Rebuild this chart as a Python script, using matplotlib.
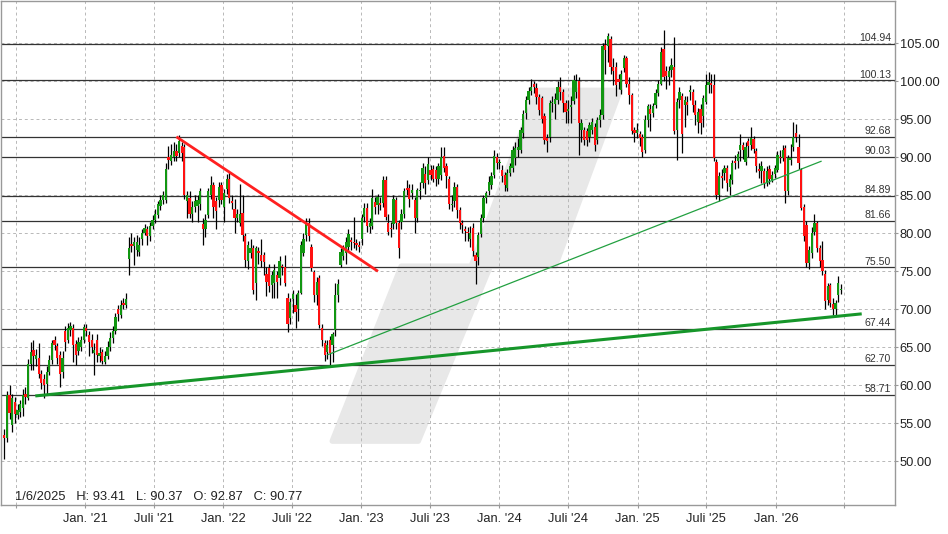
import numpy as np
import pandas as pd
import matplotlib
matplotlib.use("Agg")
import matplotlib.pyplot as plt
import matplotlib.dates as mdates
from matplotlib.patches import Polygon

plt.rcParams['font.family'] = ['Liberation Sans', 'DejaVu Sans']

# weekly candles
first_week = '2020-06-01'

opens = [
    53.5, 53.0, 58.7, 54.8, 57.8, 56.1, 56.5, 57.0, 58.9, 58.3,
    62.8, 64.6, 63.5, 63.6, 61.5, 60.8, 60.2, 61.7, 63.3, 66.0,
    65.2, 64.0, 61.8, 67.1, 66.0, 67.3, 67.5, 65.4, 64.5, 65.0,
    66.0, 67.5, 66.6, 66.0, 64.2, 66.0, 63.8, 64.4, 63.1, 63.8,
    65.0, 66.2, 67.1, 70.0, 69.3, 70.8, 70.6, 76.6, 78.6, 78.3,
    77.8, 77.6, 79.3, 80.1,
    80.6, 79.7, 80.9, 81.8, 82.4, 83.6, 84.4, 84.4, 90.0, 89.5,
    90.1, 90.8, 90.5, 91.5, 91.3, 84.3, 84.6, 82.6, 83.5, 83.6,
    83.8, 81.2, 80.6, 82.4, 85.0, 86.4, 84.2, 84.4, 86.4, 83.4,
    85.8, 87.2, 84.3, 83.2, 82.0, 81.4, 82.7, 79.7, 76.3, 77.4,
    78.0, 73.4, 77.7, 77.2, 77.1, 74.7, 75.4, 73.2, 73.4, 74.5,
    74.1, 75.6, 75.5, 71.5, 68.8,
    71.4, 70.6, 70.1, 72.1, 77.4, 79.8, 81.3, 78.2, 74.9, 71.9,
    74.1, 67.6, 65.6, 64.4, 66.0, 65.3, 67.3, 71.9, 75.8, 77.0,
    77.4, 78.2, 79.1, 78.9, 78.7, 78.5, 79.3, 82.1, 83.3, 80.8,
    80.9, 84.1, 83.7, 84.0, 84.0, 87.0, 81.4, 80.7, 81.2, 84.4,
    81.4, 81.5, 82.6, 86.0, 85.9, 85.3, 84.4, 82.0, 85.5, 86.6,
    87.8, 87.0, 88.3,
    88.5, 88.3, 87.2, 87.7, 90.2, 88.9, 87.2, 83.7, 84.2, 86.1,
    83.1, 81.3, 80.5, 80.2, 79.3, 80.7, 77.2, 76.9, 79.9, 82.0,
    84.6, 85.5, 86.3, 87.7, 90.1, 89.2, 88.3, 87.7, 86.0, 87.9,
    88.6, 89.9, 91.0, 91.0, 93.2, 95.8, 97.5, 98.7, 99.6, 99.1,
    97.9, 97.8, 95.4, 92.6, 92.7, 97.1, 97.0, 97.5, 99.2, 98.6,
    97.1, 96.1, 96.6, 97.4, 98.6, 100.0,
    93.6, 93.6, 93.4, 92.7, 93.6, 94.0, 92.3, 94.9, 95.6, 104.8,
    104.6, 105.5, 101.9, 101.9, 100.3, 98.9, 101.7, 103.0, 99.7, 98.2,
    93.6, 93.2, 93.0, 92.7, 91.0, 94.9, 96.4, 95.8, 96.9, 98.4,
    99.7, 104.3, 101.3, 100.6, 101.5, 101.9, 93.6, 97.5, 98.0, 96.9,
    97.3, 98.6, 98.6, 96.9, 94.7, 96.4, 95.4, 97.3, 99.5, 99.8,
    99.5, 89.4, 85.0,
    87.5, 87.9, 88.6, 86.1, 87.0, 89.5, 89.5, 91.0, 91.6, 89.4,
    92.1, 91.6, 92.4, 90.8, 88.5, 88.2, 88.2, 86.7, 88.5, 87.0,
    87.8, 88.3, 90.1, 89.9, 91.2, 85.6, 89.7, 91.3, 93.2, 91.4,
    88.3, 83.5, 81.1, 76.1, 77.4, 80.2, 81.3, 78.0, 76.5, 74.7,
    71.2, 73.2, 70.7, 70.1, 71.9, 72.5,
]

closes = [
    53.0, 58.7, 56.3, 58.3, 56.2, 56.7, 57.5, 58.7, 58.4, 62.8,
    64.4, 63.9, 64.0, 61.5, 60.3, 60.0, 61.7, 63.3, 65.6, 65.3,
    63.6, 61.5, 63.6, 65.7, 67.5, 67.8, 65.3, 64.0, 65.7, 66.0,
    67.7, 67.1, 65.7, 65.1, 64.6, 64.0, 64.2, 63.2, 63.8, 65.0,
    66.2, 67.1, 69.0, 69.4, 70.6, 70.5, 71.4, 78.0, 78.3, 78.9,
    78.9, 78.5, 80.1, 80.7,
    79.7, 80.9, 81.8, 82.6, 83.8, 84.4, 85.0, 88.5, 89.6, 90.3,
    90.8, 90.2, 92.1, 90.5, 85.1, 85.0, 82.5, 83.5, 84.3, 84.4,
    85.6, 80.5, 81.8, 85.6, 86.4, 83.4, 82.9, 86.1, 84.4, 85.3,
    87.1, 84.6, 84.0, 82.0, 82.6, 82.5, 79.8, 76.5, 78.5, 78.0,
    72.5, 78.0, 77.4, 76.4, 76.2, 73.6, 73.0, 74.5, 75.2, 73.6,
    76.4, 75.5, 73.4, 68.0, 70.9,
    72.0, 69.7, 72.1, 78.5, 79.3, 81.4, 79.6, 75.4, 71.9, 73.6,
    67.9, 66.0, 64.0, 65.3, 64.2, 66.8, 71.9, 73.3, 77.5, 78.0,
    78.8, 79.9, 78.9, 78.7, 78.4, 78.2, 82.0, 83.3, 81.0, 81.3,
    84.7, 83.4, 84.8, 83.7, 87.0, 82.2, 80.2, 80.5, 84.5, 81.3,
    78.1, 82.6, 85.5, 85.7, 84.5, 85.7, 82.0, 85.7, 85.7, 88.6,
    86.6, 89.1, 87.7,
    87.2, 87.2, 88.8, 90.0, 88.6, 87.6, 83.9, 83.9, 86.1, 83.1,
    81.3, 81.1, 80.3, 80.0, 80.0, 77.7, 76.3, 79.8, 82.0, 84.6,
    85.3, 86.8, 87.5, 90.2, 89.3, 89.4, 87.5, 86.4, 87.9, 88.8,
    91.0, 91.2, 91.4, 93.6, 95.7, 97.5, 98.7, 99.3, 99.3, 97.9,
    96.2, 95.1, 92.3, 92.1, 97.1, 97.3, 97.7, 99.2, 98.6, 97.1,
    96.0, 96.4, 96.9, 100.2, 100.1, 94.5,
    94.5, 92.3, 92.3, 94.2, 94.7, 91.6, 94.9, 95.6, 104.6, 104.1,
    106.0, 101.9, 101.3, 99.5, 99.9, 101.0, 103.0, 99.7, 98.2, 93.4,
    93.2, 93.6, 92.5, 90.7, 94.9, 96.7, 95.7, 96.7, 98.4, 99.7,
    103.9, 100.6, 100.7, 101.3, 102.2, 93.4, 97.3, 98.6, 93.0, 97.5,
    96.9, 98.9, 96.9, 95.6, 96.0, 94.5, 97.8, 99.5, 99.9, 99.5,
    89.9, 85.0, 87.5,
    87.3, 88.6, 86.6, 87.2, 89.2, 89.3, 90.4, 91.6, 91.0, 91.4,
    91.5, 92.6, 91.1, 88.9, 88.2, 88.9, 86.6, 88.2, 87.2, 87.7,
    88.6, 90.3, 89.9, 91.0, 85.6, 89.9, 89.9, 92.7, 92.7, 89.2,
    83.3, 79.6, 76.1, 77.8, 80.0, 81.4, 78.0, 76.3, 75.0, 71.1,
    73.0, 70.8, 70.1, 70.8, 73.4, 72.6,
]

highs = [
    54.3, 59.2, 60.0, 58.8, 58.5, 57.5, 58.0, 59.5, 59.8, 63.5,
    65.7, 66.0, 64.8, 65.6, 62.0, 61.5, 62.5, 64.0, 66.0, 66.5,
    65.5, 64.5, 64.5, 67.8, 68.2, 68.3, 68.0, 66.0, 66.3, 66.5,
    68.0, 68.0, 67.2, 66.8, 65.5, 66.8, 65.0, 64.8, 64.5, 65.8,
    67.0, 67.8, 69.5, 70.5, 71.2, 71.5, 72.1, 79.5, 80.0, 79.5,
    79.8, 79.5, 80.6, 81.2,
    81.0, 81.5, 82.4, 83.2, 84.2, 85.0, 85.6, 89.3, 91.5, 91.8,
    92.0, 91.8, 92.9, 92.0, 91.8, 85.5, 85.5, 84.2, 85.0, 85.0,
    86.0, 82.0, 82.5, 86.0, 87.5, 86.8, 84.8, 86.8, 86.8, 85.8,
    87.8, 88.0, 85.0, 84.5, 83.2, 86.5, 85.0, 80.0, 79.0, 79.3,
    78.5, 78.3, 78.2, 79.3, 77.5, 75.5, 76.0, 75.0, 76.0, 75.0,
    77.0, 76.0, 77.2, 72.2, 71.5,
    72.5, 72.0, 72.5, 79.0, 80.0, 82.0, 82.0, 78.6, 75.2, 74.2,
    74.5, 68.0, 66.0, 66.0, 66.5, 67.0, 73.5, 74.0, 78.0, 78.5,
    79.5, 80.5, 79.5, 82.2, 79.2, 79.0, 82.5, 84.0, 84.0, 82.0,
    85.8, 84.8, 85.2, 84.8, 87.5, 87.5, 82.5, 81.5, 85.0, 84.8,
    81.8, 83.2, 86.0, 87.0, 86.5, 86.5, 84.8, 86.0, 86.8, 89.3,
    88.8, 90.0, 89.0,
    89.0, 88.8, 89.3, 91.3, 91.3, 89.3, 87.5, 85.0, 86.8, 86.5,
    83.5, 81.8, 81.0, 80.8, 81.0, 81.3, 77.5, 80.2, 82.5, 85.0,
    85.6, 87.5, 88.0, 91.0, 90.5, 89.8, 89.0, 88.0, 88.5, 89.3,
    91.5, 92.0, 92.5, 94.0, 96.2, 98.0, 99.3, 100.3, 100.0, 99.8,
    98.3, 98.0, 95.8, 93.0, 97.5, 98.0, 98.5, 100.0, 100.5, 99.0,
    97.5, 97.5, 98.0, 100.8, 101.0, 100.5,
    95.0, 94.0, 93.8, 94.6, 95.2, 94.5, 95.3, 96.3, 105.0, 105.5,
    106.3, 106.0, 103.0, 102.5, 101.0, 101.5, 103.4, 103.3, 100.5, 98.5,
    94.0, 94.5, 93.5, 93.0, 95.5, 97.0, 97.0, 97.2, 99.0, 100.2,
    104.5, 106.8, 102.0, 102.0, 103.0, 105.8, 97.8, 99.3, 98.5, 98.0,
    98.0, 99.5, 99.0, 97.5, 96.5, 97.0, 98.2, 101.0, 101.2, 101.0,
    101.0, 89.8, 88.0,
    88.5, 89.0, 89.0, 87.8, 89.6, 90.3, 90.8, 93.0, 92.0, 92.0,
    92.5, 94.0, 92.8, 91.2, 89.2, 89.5, 88.6, 88.8, 89.0, 88.2,
    89.0, 90.8, 91.0, 91.6, 91.6, 90.3, 91.8, 94.6, 94.4, 93.0,
    88.6, 83.8, 81.6, 78.3, 80.8, 82.6, 81.6, 78.4, 79.0, 75.2,
    73.5, 73.5, 71.5, 71.2, 74.4, 73.3,
]

lows = [
    50.3, 52.5, 55.5, 53.9, 55.0, 55.5, 55.8, 56.0, 57.5, 58.0,
    62.0, 62.0, 62.5, 61.0, 59.5, 58.3, 58.8, 61.3, 62.8, 64.6,
    62.8, 59.8, 61.0, 64.5, 65.5, 66.5, 63.1, 62.7, 64.0, 64.5,
    65.6, 66.5, 63.8, 64.3, 61.4, 63.0, 63.0, 62.8, 62.8, 63.5,
    64.5, 65.5, 66.8, 68.5, 68.8, 70.0, 70.2, 74.5, 77.5, 75.8,
    77.0, 77.0, 78.5, 79.8,
    78.5, 79.0, 80.5, 81.3, 82.0, 83.0, 83.8, 84.0, 88.5, 89.0,
    89.5, 89.5, 90.0, 89.5, 84.5, 82.0, 82.0, 81.5, 82.8, 81.5,
    83.0, 78.5, 79.5, 82.0, 84.5, 82.0, 80.5, 83.5, 83.8, 81.5,
    85.2, 84.0, 83.2, 80.0, 81.5, 81.0, 79.0, 75.5, 75.3, 76.8,
    72.0, 71.2, 76.0, 75.5, 74.5, 71.8, 72.3, 71.5, 71.5, 71.5,
    73.2, 74.5, 73.0, 67.0, 68.0,
    69.5, 67.5, 68.5, 72.0, 77.0, 79.0, 79.0, 75.0, 71.0, 70.5,
    67.5, 65.2, 63.2, 63.5, 62.7, 63.0, 66.5, 71.0, 75.5, 76.5,
    76.0, 77.5, 77.8, 78.0, 77.8, 77.5, 78.5, 81.5, 80.2, 80.0,
    80.5, 82.5, 82.5, 83.0, 83.5, 81.8, 79.8, 79.5, 80.5, 80.5,
    76.8, 80.5, 82.0, 85.0, 83.5, 84.5, 80.0, 81.5, 84.5, 86.0,
    85.2, 86.5, 87.0,
    86.8, 86.2, 86.5, 87.0, 88.0, 86.0, 83.2, 82.9, 83.5, 82.0,
    80.5, 80.0, 79.0, 79.0, 78.2, 77.0, 73.3, 75.8, 79.5, 81.5,
    84.0, 85.0, 85.8, 87.3, 88.5, 88.5, 86.8, 85.5, 85.5, 87.5,
    88.0, 89.0, 90.0, 90.5, 92.5, 95.0, 97.0, 98.2, 98.5, 97.0,
    95.5, 94.5, 91.8, 90.7, 92.0, 96.0, 95.0, 97.0, 97.5, 96.0,
    94.5, 94.5, 94.5, 97.0, 97.8, 90.3,
    92.0, 91.6, 91.5, 92.0, 93.0, 90.8, 91.8, 94.0, 95.0, 101.0,
    102.5, 101.0, 99.5, 98.0, 99.0, 98.3, 101.2, 99.2, 97.0, 93.0,
    92.0, 92.5, 91.5, 90.0, 90.5, 94.0, 93.5, 95.3, 96.5, 98.0,
    99.5, 100.0, 99.0, 99.5, 100.5, 93.0, 89.7, 96.5, 90.5, 94.0,
    95.5, 97.5, 96.0, 94.3, 93.2, 93.0, 94.0, 97.0, 98.5, 98.5,
    89.5, 84.5, 84.3,
    86.0, 87.0, 85.5, 85.0, 86.5, 88.5, 88.6, 89.5, 89.8, 89.0,
    90.0, 91.0, 90.5, 88.0, 87.3, 86.6, 86.0, 86.2, 86.5, 86.8,
    87.3, 88.0, 89.2, 89.5, 84.0, 85.0, 89.0, 90.8, 92.0, 88.5,
    83.0, 79.0, 75.5, 75.3, 76.8, 79.8, 77.5, 75.5, 74.5, 70.0,
    70.5, 70.3, 69.3, 69.2, 71.0, 72.0,
]

# horizontal support / resistance levels
levels = [104.94, 100.13, 92.68, 90.03, 84.89, 81.66, 75.50, 67.44, 62.70, 58.71]

# trend lines: start date, start price, end date, end price
red_trend = ['2021-08-30', 92.7, '2023-02-14', 75.0]
green_thin = ['2022-10-03', 64.0, '2026-05-02', 89.5]
green_thick = ['2020-08-22', 58.6, '2026-08-16', 69.4]

y_ticks = [50, 55, 60, 65, 70, 75, 80, 85, 90, 95, 100, 105]
half_years = ['2020-07-01', '2021-01-01', '2021-07-01', '2022-01-01', '2022-07-01',
              '2023-01-01', '2023-07-01', '2024-01-01', '2024-07-01', '2025-01-01',
              '2025-07-01', '2026-01-01', '2026-07-01']
half_year_labels = ['', "Jan. '21", "Juli '21", "Jan. '22", "Juli '22", "Jan. '23",
                    "Juli '23", "Jan. '24", "Juli '24", "Jan. '25", "Juli '25",
                    "Jan. '26", '']

info_text = '1/6/2025   H: 93.41   L: 90.37   O: 92.87   C: 90.77'

GREEN = '#119611'
RED = '#ff1111'

o = np.array(opens)
c = np.array(closes)
h = np.array(highs)
l = np.array(lows)
dates = pd.date_range(first_week, periods=len(c), freq='7D')
x = mdates.date2num(dates)

fig = plt.figure(figsize=(9.48, 5.34), dpi=100)
ax = fig.add_axes([0.5 / 948, 29 / 534, 894.5 / 948, 504.5 / 534])

# grey logo in the background
wm_px = [(537, 90), (620, 90), (555, 266), (490, 266), (418, 441),
         (332, 441), (401, 266), (471, 266)]
wm = Polygon([(px / 895, 1 - py / 505) for px, py in wm_px], closed=True,
             transform=ax.transAxes, facecolor='#e8e8e8', edgecolor='#e8e8e8',
             lw=4, joinstyle='round', zorder=0)
ax.add_patch(wm)

ax.set_axisbelow(True)
ax.grid(True, linestyle=(0, (3, 3)), color='#b8b8b8', lw=0.7)

for lv in levels:
    ax.axhline(lv, color='#333333', lw=0.9, zorder=1)
    ax.annotate(f'{lv:.2f}', xy=(1, lv), xycoords=('axes fraction', 'data'),
                xytext=(-3, 2), textcoords='offset points', ha='right',
                va='baseline', fontsize=7.6, color='#333333')

# candles
colors = np.where(c >= o, GREEN, RED)
ax.vlines(x, l, h, color='black', lw=0.9, zorder=2)
ax.bar(x, np.maximum(np.abs(c - o), 0.15), bottom=np.minimum(o, c), width=6,
       color=colors, lw=0, zorder=3)

# trend lines
for tl, col, lw in [(red_trend, '#ff2020', 2.0), (green_thin, '#22a040', 0.9),
                    (green_thick, '#16962a', 2.2)]:
    ax.plot(mdates.date2num(pd.to_datetime([tl[0], tl[2]])), [tl[1], tl[3]],
            color=col, lw=lw, zorder=4, solid_capstyle='butt')

ax.set_xlim(mdates.date2num(pd.Timestamp('2020-05-22')),
            mdates.date2num(pd.Timestamp('2026-11-12')))
ax.set_ylim(44.25, 110.63)

ax.set_xticks(mdates.date2num(pd.to_datetime(half_years)))
ax.set_xticklabels(half_year_labels)
ax.set_yticks(y_ticks)
ax.set_yticklabels([f'{v:.2f}' for v in y_ticks])
ax.yaxis.tick_right()
ax.tick_params(axis='both', labelsize=9.25, colors='#999999',
               labelcolor='#222222', width=0.8)
ax.tick_params(axis='x', length=2.5, pad=3)
ax.tick_params(axis='y', length=2, pad=1.5)
for sp in ax.spines.values():
    sp.set_color('#999999')
    sp.set_linewidth(1.0)

ax.text(15 / 895, 1 - 497 / 505, info_text, transform=ax.transAxes,
        fontsize=9.25, va='center', ha='left', color='#222222')

fig.savefig('out.png', dpi=100)
